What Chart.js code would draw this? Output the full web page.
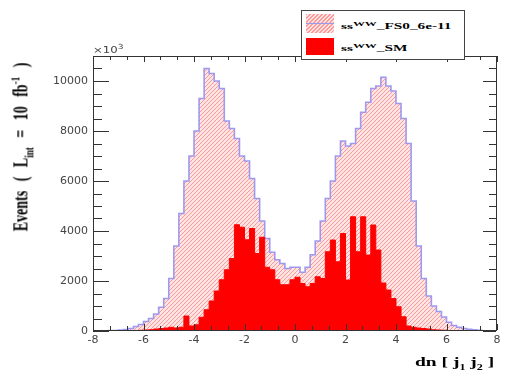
<!DOCTYPE html>
<html>
<head>
<meta charset="utf-8">
<script src="https://cdn.jsdelivr.net/npm/chart.js@4.4.0/dist/chart.umd.min.js"></script>
<style>
  html, body { margin: 0; padding: 0; background: #fff; }
  #wrap { position: relative; width: 506px; height: 375px; overflow: hidden; }
  #wrap canvas { position: absolute; left: 0; top: 0; }
  .lbl { position: absolute; white-space: nowrap; font-family: "Liberation Serif", "DejaVu Serif", serif; font-weight: bold; color: #000; }
  #ytitle { left: 22px; top: 147px; font-size: 14px; word-spacing: 6px; transform: translate(-50%, -50%) rotate(-90deg) scaleY(1.5); }
  #xtitle { left: 415px; top: 354px; font-size: 13px; transform-origin: 0 0; transform: scaleX(1.5); }
  #mult { left: 93px; top: 43px; font-family: "DejaVu Sans", sans-serif; font-weight: normal; font-size: 9px; color: #444; transform-origin: 0 0; transform: scaleX(1.3); }
  #legend { position: absolute; left: 301px; top: 10px; width: 162px; height: 48px; border: 1px solid #444; background: #fff; }
  .sw { position: absolute; left: 4px; width: 28px; }
  #sw1 { top: 3px; height: 19px; background: repeating-linear-gradient(135deg, #ff9999 0 1px, #ffe4e4 1px 2.8px); }
  #sw1 div { position: absolute; left: 0; right: 0; top: 9px; height: 1px; background: #9a9aee; }
  #sw2 { top: 27px; height: 17px; background: #ff0000; }
  .lt { position: absolute; left: 39px; font-size: 9px; transform-origin: 0 0; transform: scaleX(1.7); }
  .lt sup { font-size: 7px; vertical-align: 3px; }
</style>
</head>
<body>
<div id="wrap">
  <canvas id="histo" width="506" height="375"></canvas>
  <div class="lbl" id="ytitle">Events ( L<sub style="font-size:9px">int</sub> = 10 fb<sup style="font-size:9px">-1</sup> )</div>
  <div class="lbl" id="xtitle">dn [ j<sub style="font-size:8px">1</sub> j<sub style="font-size:8px">2</sub> ]</div>
  <div class="lbl" id="mult">&times;10<sup style="font-size:7px">3</sup></div>
  <div id="legend">
    <div class="sw" id="sw1"><div></div></div>
    <div class="lbl lt" style="top:9px">ss<sup>WW</sup>_FS0_6e-11</div>
    <div class="sw" id="sw2"></div>
    <div class="lbl lt" style="top:31px">ss<sup>WW</sup>_SM</div>
  </div>
</div>
<script>
//histogram binning (80 bins of 0.2 from -8 to 8)
const binStart = -8;
const binWidth = 0.2;

//ssWW_FS0_6e-11 counts per bin
const fs0Counts = [
    0, 0, 10, 20, 20, 40, 60, 100, 180, 260,
    380, 500, 680, 950, 1300, 2100, 3400, 4700, 6000, 7000,
    8000, 9300, 10500, 10300, 10000, 9700, 8400, 8100, 7700, 7000,
    6800, 6100, 5300, 4400, 3700, 3150, 2850, 2700, 2500, 2550,
    2550, 2350, 2550, 3050, 3600, 4400, 5300, 6000, 7000, 7600,
    7400, 7500, 8100, 8750, 9150, 9700, 9800, 10150, 9800, 9600,
    9100, 8500, 7500, 5200, 3400, 2100, 1400, 1000, 780, 560,
    350, 220, 150, 100, 70, 50, 30, 10, 0, 0
];

//ssWW_SM counts per bin
const smCounts = [
    0, 0, 0, 0, 0, 0, 0, 10, 20, 30,
    40, 50, 80, 100, 120, 150, 120, 150, 600, 200,
    250, 550, 850, 1200, 1600, 2050, 2450, 2900, 4250, 4150,
    3650, 4100, 3100, 3750, 2550, 2450, 2050, 1850, 1850, 2050,
    2150, 1900, 1770, 1900, 2170, 2100, 3170, 3640, 2770, 3900,
    2040, 4570, 3170, 4570, 3040, 4240, 3240, 1920, 1640, 1300,
    970, 570, 200, 150, 120, 100, 80, 50, 40, 30,
    20, 10, 10, 0, 0, 0, 0, 0, 0, 0
];

//axis ticks
const xTickValues = [-8, -6, -4, -2, 0, 2, 4, 6, 8];
const yTickValues = [0, 2000, 4000, 6000, 8000, 10000];
const yMax = 11000;

//turn bin counts into step points (left edges + closing edge)
function toSteps(counts) {
    let pts = counts.map((c, i) => ({x: binStart + i * binWidth, y: c}));
    pts.push({x: binStart + counts.length * binWidth, y: counts[counts.length - 1]});
    return pts;
}

//fine diagonal hatch like ROOT fill style 3004
function makeHatch() {
    const s = 4;
    const c = document.createElement('canvas');
    c.width = s; c.height = s;
    const g = c.getContext('2d');
    g.fillStyle = '#ffe4e4';
    g.fillRect(0, 0, s, s);
    g.strokeStyle = '#ff9999';
    g.lineWidth = 1;
    g.beginPath();
    g.moveTo(-1, s + 1); g.lineTo(s + 1, -1);
    g.moveTo(-1, 1); g.lineTo(1, -1);
    g.moveTo(s - 1, s + 1); g.lineTo(s + 1, s - 1);
    g.stroke();
    return g.createPattern(c, 'repeat');
}

//frame with inward ticks on all four sides
const frameTicks = {
    id: 'frameTicks',
    afterDraw(chart) {
        const ctx = chart.ctx;
        const a = chart.chartArea;
        const xs = chart.scales.x, ys = chart.scales.y;
        const L = Math.round(a.left), R = Math.round(a.right) - 1;
        const T = Math.round(a.top), B = Math.round(a.bottom) - 1;
        ctx.save();
        ctx.fillStyle = '#333';
        for (const major of yTickValues) {
            for (const off of [0, 500, 1000, 1500]) {
                const v = major + off;
                if (v > yMax) continue;
                const py = Math.round(ys.getPixelForValue(v));
                const big = off === 0;
                ctx.fillRect(L, py, big ? 16 : 9, 1);
                const rl = big ? 13 : 7;
                ctx.fillRect(R - rl, py, rl, 1);
            }
        }
        for (const major of xTickValues) {
            for (const off of [0, 2 / 3, 4 / 3]) {
                const v = major + off;
                if (v > 8) continue;
                const px = Math.round(xs.getPixelForValue(v));
                const len = off === 0 ? 6 : 4;
                ctx.fillRect(px, B - len, 1, len);
                ctx.fillRect(px, T, 1, len);
            }
        }
        ctx.fillRect(L, T, R - L + 1, 1);
        ctx.fillRect(L, B, R - L + 1, 1);
        ctx.fillRect(L, T, 1, B - T + 1);
        ctx.fillRect(R, T, 1, B - T + 1);
        ctx.restore();
    }
};

document.addEventListener('DOMContentLoaded', function() {
    const ctx = document.getElementById('histo').getContext('2d');
    new Chart(ctx, {
        type: 'line',
        data: {
            datasets: [{
                label: 'ssWW_FS0_6e-11',
                data: toSteps(fs0Counts),
                stepped: 'before',
                fill: 'origin',
                backgroundColor: makeHatch(),
                borderColor: 'rgba(140,140,240,0.85)',
                borderWidth: 1.6,
                pointRadius: 0,
                order: 2
            }, {
                label: 'ssWW_SM',
                data: toSteps(smCounts),
                stepped: 'before',
                fill: 'origin',
                backgroundColor: '#ff0000',
                borderColor: '#ff0000',
                borderWidth: 1,
                pointRadius: 0,
                order: 1
            }]
        },
        options: {
            responsive: false,
            animation: false,
            layout: {padding: {top: 56, right: 9, left: 0, bottom: 0}},
            plugins: {legend: {display: false}, tooltip: {enabled: false}},
            scales: {
                x: {
                    type: 'linear',
                    min: -8, max: 8,
                    grid: {display: false, drawTicks: false},
                    border: {display: false},
                    afterBuildTicks: s => { s.ticks = xTickValues.map(v => ({value: v})); },
                    afterFit: s => { s.height = 44; },
                    ticks: {padding: 3, maxRotation: 0, autoSkip: false, color: '#444', font: {family: 'DejaVu Sans', size: 11},
                        callback: v => String(v)}
                },
                y: {
                    min: 0, max: yMax,
                    grid: {display: false, drawTicks: false},
                    border: {display: false},
                    afterBuildTicks: s => { s.ticks = yTickValues.map(v => ({value: v})); },
                    afterFit: s => { s.width = 93; },
                    ticks: {padding: 5, color: '#444', font: {family: 'DejaVu Sans', size: 11},
                        callback: v => String(v)}
                }
            }
        },
        plugins: [frameTicks]
    });
});
</script>
</body>
</html>
